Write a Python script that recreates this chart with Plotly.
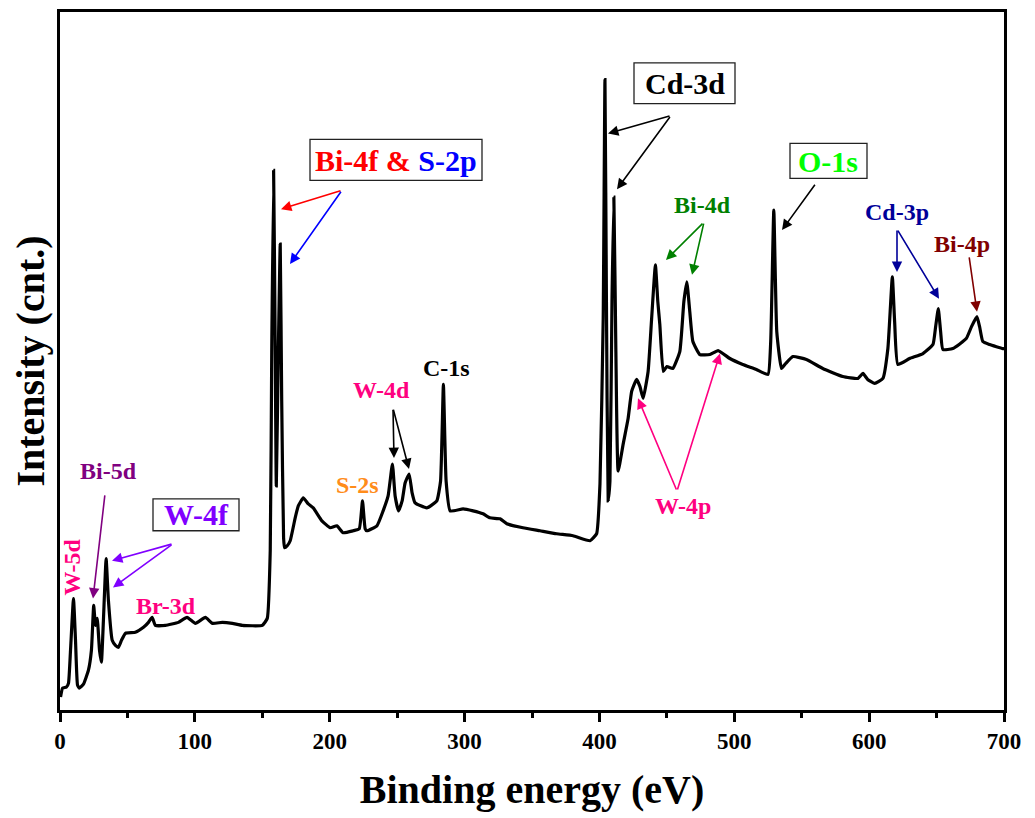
import plotly.graph_objects as go

# Binding energy (eV)
energy = [0.4, 1.9, 4.8, 6.3, 7.8, 10.0, 11.5, 13.0, 14.4, 17.4, 21.1, 23.3, 25.0, 26.3, 27.6, 29.3,
          30.7, 32.2, 34.2, 35.9, 38.7, 41.1, 43.3, 45.6, 48.5, 55.9, 61.9, 65.6, 68.3, 70.7, 78.1,
          87.8, 94.2, 100.4, 107.8, 113.0, 120.4, 127.8, 135.2, 150.0, 153.7, 155.9, 157.0, 158.4,
          159.6, 160.4, 161.9, 163.3, 164.4, 165.8, 166.5, 168.5, 170.7, 174.4, 176.7, 180.4, 184.1,
          187.8, 194.2, 200.4, 205.3, 210.0, 217.4, 221.9, 224.3, 226.3, 227.6, 235.0, 239.6, 243.3,
          246.5, 248.5, 251.0, 253.7, 255.9, 258.9, 261.1, 263.3, 272.0, 279.4, 282.2, 284.3, 286.3,
          289.3, 298.9, 306.3, 313.7, 318.9, 326.3, 331.3, 343.3, 355.9, 368.3, 380.4, 393.0, 397.9,
          400.4, 402.8, 404.1, 405.2, 406.5, 407.8, 409.3, 410.7, 412.2, 413.9, 417.6, 421.3, 423.9,
          427.6, 430.0, 432.4, 436.1, 438.7, 441.5, 443.3, 444.8, 447.3, 450.0, 454.4, 459.6, 462.6,
          464.8, 467.0, 469.3, 474.4, 481.9, 488.0, 496.7, 506.3, 516.4, 525.0, 527.0, 529.3, 531.5,
          535.0, 538.1, 543.5, 553.5, 565.6, 580.4, 591.7, 595.4, 598.9, 604.1, 610.2, 613.9, 617.2,
          618.9, 621.3, 630.0, 639.9, 647.3, 649.3, 651.3, 653.0, 654.7, 662.1, 672.0, 675.9, 679.9,
          681.9, 684.3, 689.3, 699.1, 700.0]
# Intensity (a.u.)
intensity = [13, 22, 23, 27, 60, 112, 70, 25, 22, 26, 40, 60, 105, 85, 92, 60,
             48, 90, 152, 110, 70, 65, 63, 70, 77, 78, 83, 88, 93, 85, 85,
             88, 93, 87, 93, 87, 88, 87, 85, 85, 92, 160, 360, 542,
             360, 225, 360, 468, 310, 173, 163, 165, 170, 193, 205, 213, 207,
             203, 190, 183, 185, 178, 180, 182, 210, 182, 180, 185, 200, 215,
             247, 215, 200, 210, 228, 237, 218, 208, 203, 210, 230, 327, 230,
             200, 202, 200, 197, 193, 192, 187, 183, 180, 177, 175, 170, 177,
             227, 393, 633, 410, 210, 230, 410, 515, 360, 240, 267, 293, 320,
             332, 325, 313, 340, 393, 447, 410, 387, 340, 345, 343, 360, 410,
             430, 400, 370, 357, 357, 361, 353, 347, 342, 337, 370, 502, 380,
             343, 348, 355, 352, 343, 335, 333, 338, 332, 328, 333, 363, 435,
             390, 347, 353, 358, 367, 385, 403, 380, 362, 363, 373, 385, 395,
             385, 370, 367, 363, 363]

x_ticks = [0, 100, 200, 300, 400, 500, 600, 700]

FONT = "Liberation Serif"
PINK = "#ff0080"

# layout geometry (page body has an 8px default margin)
OFF = 8
W, H = 1035 - OFF, 818 - OFF
ML, MR, MT, MB = 60 - OFF, 31, 9 - OFF, 108
XR = [0, 700]
YR = [0, 701]
PL = ML + OFF
PB = H + OFF - MB
PW = W - ML - MR
PH = H - MT - MB


def dx(px):
    return XR[0] + (px - PL) / PW * (XR[1] - XR[0])


def dy(py):
    return YR[0] + (PB - py) / PH * (YR[1] - YR[0])


fig = go.Figure()
fig.add_trace(go.Scatter(x=energy, y=intensity, mode="lines",
                         line=dict(color="black", width=3.2, shape="spline", smoothing=0.4),
                         showlegend=False))

ann = []
shapes = []


def label(px, py, text, color, size, angle=0):
    ann.append(dict(x=dx(px), y=dy(py), xref="x", yref="y", text=text, showarrow=False,
                    font=dict(family=FONT, size=size, color=color), textangle=angle,
                    xanchor="center", yanchor="middle"))


def box(x0, y0, x1, y1):
    shapes.append(dict(type="rect", xref="x", yref="y", x0=dx(x0), x1=dx(x1),
                       y0=dy(y0), y1=dy(y1), line=dict(color="#222222", width=1.3),
                       fillcolor="white", layer="above"))


def arrow(tx, ty, hx, hy, color):
    ann.append(dict(x=dx(hx), y=dy(hy), ax=dx(tx), ay=dy(ty), xref="x", yref="y",
                    axref="x", ayref="y", text="", showarrow=True, arrowhead=2,
                    arrowsize=1.3, arrowwidth=1.6, arrowcolor=color, standoff=0))


BIG, SMALL = 30, 24

# Bi-4f & S-2p
box(310, 137, 482, 178)
label(396, 158, "<b><span style='color:#ff0000'>Bi-4f &amp; </span>"
      "<span style='color:#0000ff'>S-2p</span></b>", "#ff0000", BIG)
arrow(342, 188, 281, 207, "#ff0000")
arrow(342, 188, 290, 262, "#0000ff")
# Cd-3d
box(634, 60, 735, 101)
label(685, 81, "<b>Cd-3d</b>", "black", BIG)
arrow(671, 113, 608, 131, "black")
arrow(671, 113, 617, 187, "black")
# O-1s
box(790, 141, 867, 176)
label(828, 159, "<b>O-1s</b>", "#00ff00", BIG)
arrow(816, 181, 782, 228, "black")
# Bi-4d
label(702, 203, "<b>Bi-4d</b>", "#008000", SMALL)
arrow(704, 220, 666, 258, "#008000")
arrow(704, 220, 692, 273, "#008000")
# Cd-3p
label(897, 210, "<b>Cd-3p</b>", "#000099", SMALL)
arrow(897, 227, 897, 270, "#000099")
arrow(897, 227, 939, 297, "#000099")
# Bi-4p
label(962, 242, "<b>Bi-4p</b>", "#800000", SMALL)
arrow(969, 254, 977, 310, "#800000")
# W-4p
label(683, 505, "<b>W-4p</b>", PINK, SMALL)
arrow(677, 490, 638, 397, PINK)
arrow(677, 490, 720, 352, PINK)
# C-1s
label(446, 367, "<b>C-1s</b>", "black", SMALL)
# W-4d
label(381, 389, "<b>W-4d</b>", PINK, SMALL)
arrow(393, 407, 394, 457, "black")
arrow(393, 407, 409, 468, "black")
# S-2s
label(357, 484, "<b>S-2s</b>", "#ff8c1a", SMALL)
# W-4f
box(153, 498, 239, 530)
label(196, 514, "<b>W-4f</b>", "#8000ff", BIG)
arrow(173, 543, 112, 560, "#8000ff")
arrow(173, 543, 113, 587, "#8000ff")
# Bi-5d
label(108, 470, "<b>Bi-5d</b>", "#800080", SMALL)
arrow(105, 493, 93, 598, "#800080")
# W-5d
label(72, 567, "<b>W-5d</b>", PINK, SMALL, angle=-90)
# Br-3d
label(166, 606, "<b>Br-3d</b>", PINK, SMALL)

fig.update_layout(
    width=W, height=H,
    margin=dict(l=ML, r=MR, t=MT, b=MB),
    paper_bgcolor="white", plot_bgcolor="white",
    annotations=ann, shapes=shapes,
    font=dict(family=FONT, color="black"),
    xaxis=dict(range=XR, tickvals=x_ticks, ticktext=[f"<b>{v}</b>" for v in x_ticks],
               ticks="outside", ticklen=9, tickwidth=2.5, tickcolor="black",
               minor=dict(dtick=50, tick0=0, ticks="outside", ticklen=5, tickwidth=2.5,
                          tickcolor="black"),
               showline=True, linecolor="black", linewidth=2.5, mirror=True,
               showgrid=False, zeroline=False,
               tickfont=dict(family=FONT, size=23, color="black"),
               title=dict(text="<b>Binding energy (eV)</b>",
                          font=dict(family=FONT, size=40, color="black"), standoff=22)),
    yaxis=dict(range=YR, showticklabels=False, ticks="",
               showline=True, linecolor="black", linewidth=2.5, mirror=True,
               showgrid=False, zeroline=False,
               title=dict(text="<b>Intensity (cnt.)</b>",
                          font=dict(family=FONT, size=40, color="black"), standoff=4)),
)

fig.write_html("out.html")
